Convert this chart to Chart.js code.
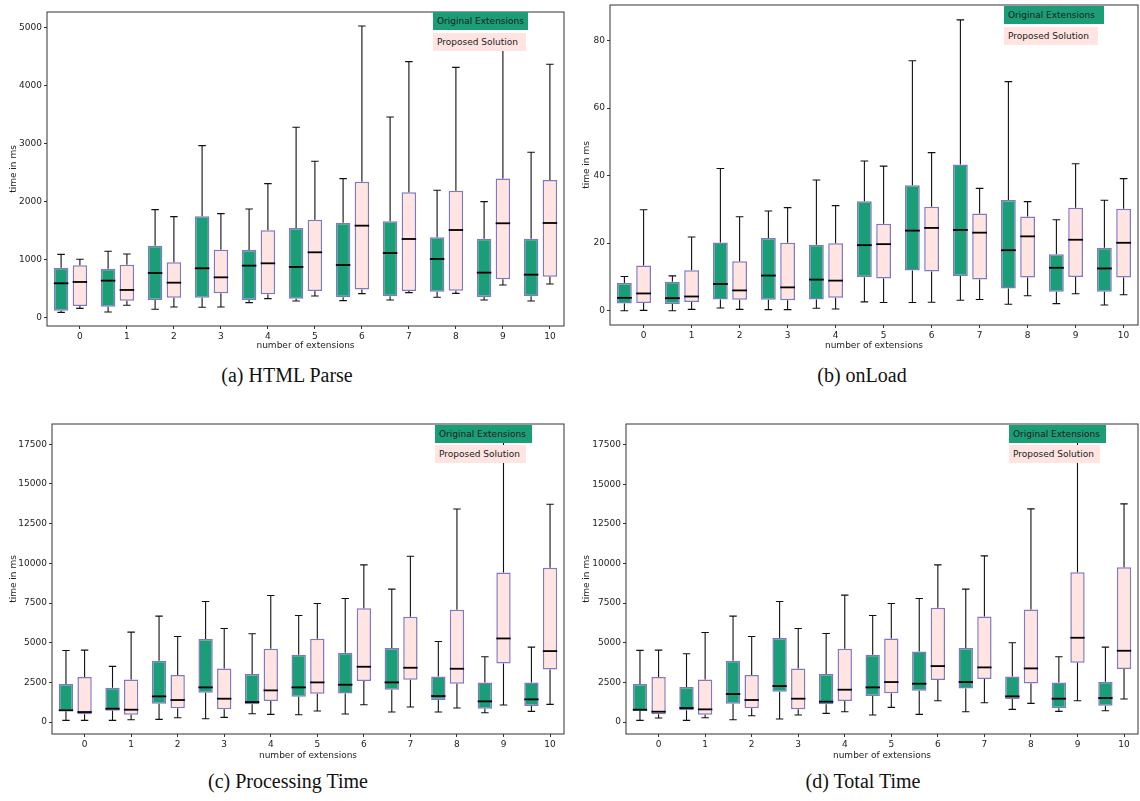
<!DOCTYPE html>
<html>
<head>
<meta charset="utf-8">
<script src="https://cdn.jsdelivr.net/npm/chart.js@4.4.1/dist/chart.umd.min.js"></script>
<style>
  body { margin: 0; background: #fff; width: 1140px; height: 801px; position: relative; overflow: hidden; font-family: "DejaVu Sans", sans-serif; }
  canvas { position: absolute; }
  .cap { position: absolute; font-family: "Liberation Serif", serif; font-size: 20px; line-height: 20px; white-space: nowrap; transform: translateX(-50%); color: #111; }
  .lg { position: absolute; font-size: 9px; line-height: 12px; padding: 3px 4px; color: #1a1a1a; white-space: nowrap; box-sizing: border-box; height: 18px; }
  .lg.orig { background: #1b9e77; }
  .lg.prop { background: #ffe4e1; }
</style>
</head>
<body>
<canvas id="cA" width="570" height="360" style="left:0;top:0"></canvas>
<canvas id="cB" width="570" height="360" style="left:570px;top:0"></canvas>
<canvas id="cC" width="570" height="360" style="left:0;top:410px"></canvas>
<canvas id="cD" width="570" height="360" style="left:570px;top:410px"></canvas>

<div class="lg orig" style="left:433px;top:12px;width:95px">Original Extensions</div>
<div class="lg prop" style="left:433px;top:33px;width:93px">Proposed Solution</div>
<div class="lg orig" style="left:1004px;top:6px;width:100px">Original Extensions</div>
<div class="lg prop" style="left:1004px;top:27px;width:94px">Proposed Solution</div>
<div class="lg orig" style="left:435px;top:425px;width:97px">Original Extensions</div>
<div class="lg prop" style="left:435px;top:445px;width:91px">Proposed Solution</div>
<div class="lg orig" style="left:1009px;top:425px;width:97px">Original Extensions</div>
<div class="lg prop" style="left:1009px;top:445px;width:91px">Proposed Solution</div>

<div class="cap" style="left:287px;top:365px">(a) HTML Parse</div>
<div class="cap" style="left:862px;top:365px">(b) onLoad</div>
<div class="cap" style="left:288px;top:771px">(c) Processing Time</div>
<div class="cap" style="left:863px;top:771px">(d) Total Time</div>

<script>
// each entry: [min, q1, median, q3, max]
const categories = ['0', '1', '2', '3', '4', '5', '6', '7', '8', '9', '10'];

const htmlOrig = [[86,115,587,857,1087],[92,184,633,840,1139],[138,299,765,1237,1858],[173,339,846,1743,2963],
  [253,299,892,1162,1870],[282,322,869,1542,3280],[288,345,903,1634,2394],[299,362,1110,1657,3458],
  [345,443,1007,1381,2192],[299,351,771,1358,1997],[282,362,736,1358,2848]];
const htmlProp = [[155,196,610,898,1001],[207,288,472,909,1093],[178,339,598,949,1738],[178,414,690,1168,1789],
  [322,397,932,1502,2307],[368,455,1122,1686,2693],[409,478,1582,2342,5029],[426,455,1352,2158,4413],
  [414,460,1507,2186,4315],[558,656,1623,2394,4750],[575,702,1628,2371,4367]];

const onloadOrig = [[0,2.1,3.8,8.2,10.1],[0,2.0,3.7,8.6,10.3],[0.8,3.3,7.9,20.2,42.1],[0.3,3.2,10.4,21.5,29.5],
  [0.7,3.3,9.2,19.5,38.7],[2.6,9.9,19.4,32.4,44.3],[2.4,11.9,23.7,37.1,74.0],[3.1,10.3,23.9,43.3,86.1],
  [1.9,6.6,17.9,32.8,67.8],[2.1,5.6,12.7,16.7,26.9],[1.7,5.6,12.5,18.6,32.7]];
const onloadProp = [[0.1,2.3,5.1,13.4,29.9],[0.4,2.6,4.2,12.0,21.8],[0.4,3.2,6.0,14.6,27.8],[0.3,3.1,6.9,20.1,30.5],
  [0.5,3.8,8.9,20.0,31.1],[2.4,9.5,19.7,25.7,42.8],[2.5,11.6,24.5,30.8,46.8],[3.3,9.2,23.1,28.8,36.2],
  [4.4,9.8,22.0,27.9,32.3],[5.0,10.0,21.0,30.5,43.5],[4.7,9.8,20.1,30.2,39.1]];

const procOrig = [[105,680,740,2392,4511],[105,713,839,2161,3504],[168,1154,1616,3861,6672],[210,1846,2182,5224,7596],
  [525,1112,1259,3021,5560],[462,1595,2182,4238,6714],[504,1804,2350,4364,7784],[629,2035,2497,4658,8372],
  [629,1385,1637,2875,5078],[587,839,1301,2497,4113],[671,1007,1427,2497,4721]];
const procProp = [[105,483,629,2833,4532],[147,462,776,2686,5665],[273,860,1385,2958,5392],[294,797,1469,3378,5896],
  [483,1322,1993,4616,7973],[692,1783,2497,5245,7470],[1091,2581,3483,7176,9903],[944,2665,3420,6630,10449],
  [881,2413,3357,7071,13428],[1070,3693,5266,9421,17880],[1112,3315,4469,9715,13722]];

const totalOrig = [[105,693,777,2395,4517],[105,735,882,2206,4307],[147,1155,1765,3866,6681],[189,1912,2269,5294,7605],
  [546,1113,1282,3025,5588],[441,1639,2185,4244,6723],[483,1975,2416,4454,7794],[651,2122,2521,4664,8382],
  [798,1450,1618,2878,5000],[672,861,1471,2500,4118],[714,1029,1513,2542,4727]];
const totalProp = [[252,483,651,2836,4538],[273,462,798,2689,5651],[399,861,1387,2962,5399],[441,798,1471,3382,5903],
  [651,1324,2038,4622,8004],[924,1807,2521,5273,7479],[1345,2647,3529,7206,9916],[1218,2710,3445,6660,10483],
  [1176,2437,3382,7101,13445],[1345,3739,5315,9454,17880],[1450,3340,4496,9769,13761]];

const htmlTicks = [0, 1000, 2000, 3000, 4000, 5000];
const onloadTicks = [0, 20, 40, 60, 80];
const timeTicks = [0, 2500, 5000, 7500, 10000, 12500, 15000, 17500];

const GREEN = '#1b9e77';
const PINK = '#ffe4e1';
const EDGE = '#7f78c2';
const INK = '#222';
const W = 570, H = 360;

// whiskers, caps, medians and the frame, drawn through the chart scales
const boxPlugin = {
  id: 'boxes',
  afterDatasetsDraw(chart) {
    const {ctx, chartArea: a, scales: {x, y}} = chart;
    ctx.save();
    ctx.beginPath();
    ctx.rect(a.left, a.top, a.width, a.height);
    ctx.clip();
    chart.data.datasets.forEach((ds, di) => {
      const bars = chart.getDatasetMeta(di).data;
      ds.stats.forEach((s, i) => {
        const cx = x.getPixelForValue(i + ds.shift);
        const cap = (x.getPixelForValue(0.08) - x.getPixelForValue(0));
        ctx.strokeStyle = '#111';
        ctx.lineWidth = 1.1;
        ctx.beginPath();
        ctx.moveTo(cx, y.getPixelForValue(s[0])); ctx.lineTo(cx, y.getPixelForValue(s[1]));
        ctx.moveTo(cx, y.getPixelForValue(s[3])); ctx.lineTo(cx, y.getPixelForValue(s[4]));
        ctx.moveTo(cx - cap, y.getPixelForValue(s[0])); ctx.lineTo(cx + cap, y.getPixelForValue(s[0]));
        ctx.moveTo(cx - cap, y.getPixelForValue(s[4])); ctx.lineTo(cx + cap, y.getPixelForValue(s[4]));
        ctx.stroke();
        const hw = bars[i].width / 2;
        ctx.strokeStyle = '#000';
        ctx.lineWidth = 1.8;
        ctx.beginPath();
        ctx.moveTo(cx - hw, y.getPixelForValue(s[2])); ctx.lineTo(cx + hw, y.getPixelForValue(s[2]));
        ctx.stroke();
      });
    });
    ctx.restore();
  },
  afterDraw(chart) {
    const {ctx, chartArea: a} = chart;
    ctx.save();
    ctx.strokeStyle = '#333';
    ctx.lineWidth = 1;
    ctx.strokeRect(a.left, a.top, a.width, a.height);
    ctx.restore();
  }
};

const font = {family: 'DejaVu Sans', size: 9};

function drawPanel(id, orig, prop, yTicks, yMin, yMax, area, titleX) {
  new Chart(document.getElementById(id), {
    type: 'bar',
    data: {
      datasets: [
        {label: 'Original Extensions', data: orig.map((s, i) => ({x: i - 0.4, y: [s[1], s[3]]})),
         stats: orig, shift: -0.4, backgroundColor: GREEN},
        {label: 'Proposed Solution', data: prop.map((s, i) => ({x: i, y: [s[1], s[3]]})),
         stats: prop, shift: 0, backgroundColor: PINK}
      ]
    },
    options: {
      responsive: false,
      animation: false,
      events: [],
      grouped: false,
      categoryPercentage: 1,
      barPercentage: 0.77,
      borderColor: EDGE,
      borderWidth: 1.5,
      borderSkipped: false,
      layout: {padding: {left: 0, top: area.t, right: W - area.r, bottom: 0}},
      plugins: {legend: {display: false}, tooltip: {enabled: false}},
      scales: {
        x: {
          type: 'linear', min: -0.7, max: 10.3, offset: false,
          afterBuildTicks: s => { s.ticks = categories.map((c, i) => ({value: i})); },
          afterFit: s => { s.height = H - area.b; s.paddingLeft = 0; s.paddingRight = 0; },
          ticks: {callback: v => categories[v], font, color: INK, padding: 2, maxRotation: 0, autoSkip: false},
          grid: {display: true, drawOnChartArea: false, drawTicks: true, tickLength: 3, color: '#333', offset: false},
          border: {display: false},
          title: {display: true, text: 'number of extensions', font, color: INK, padding: {top: 0, bottom: 8.5}}
        },
        y: {
          min: yMin, max: yMax,
          afterBuildTicks: s => { s.ticks = yTicks.map(v => ({value: v})); },
          afterFit: s => { s.width = area.l; s.paddingTop = 0; s.paddingBottom = 0; },
          ticks: {callback: v => String(v), font, color: INK, padding: 2},
          grid: {display: true, drawOnChartArea: false, drawTicks: true, tickLength: 3, color: '#333'},
          border: {display: false},
          title: {display: true, text: 'time in ms', font, color: INK, padding: {top: titleX - 5.4, bottom: 0}}
        }
      }
    },
    plugins: [boxPlugin]
  });
}

drawPanel('cA', htmlOrig, htmlProp, htmlTicks, -150, 5270, {l: 47, t: 12, r: 564, b: 326}, 14);
drawPanel('cB', onloadOrig, onloadProp, onloadTicks, -4.24, 90.5, {l: 40, t: 5, r: 568, b: 325}, 17);
drawPanel('cC', procOrig, procProp, timeTicks, -755, 18780, {l: 52, t: 14, r: 564, b: 324}, 14);
drawPanel('cD', totalOrig, totalProp, timeTicks, -756, 18800, {l: 56, t: 14, r: 568, b: 324}, 17);
</script>
</body>
</html>
